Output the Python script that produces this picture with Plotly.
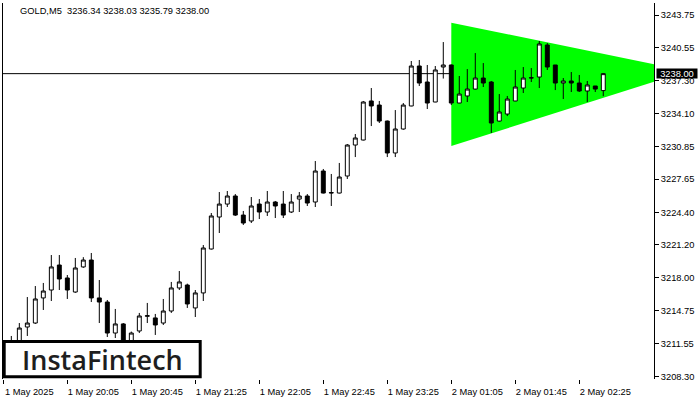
import plotly.graph_objects as go

# ---- data (GOLD, M5) ----
open_ = [3211.20, 3211.30, 3211.60, 3213.15, 3213.54, 3216.00, 3216.78, 3219.23, 3217.96, 3216.58,
         3219.04, 3219.72, 3216.00, 3215.60, 3212.56, 3213.45, 3211.60, 3212.76, 3214.20, 3214.04,
         3213.54, 3214.72, 3216.98, 3217.27, 3215.02, 3216.49, 3220.80, 3223.94, 3225.21, 3226.00,
         3224.13, 3223.55, 3225.21, 3224.43, 3225.41, 3225.21, 3224.43, 3225.70, 3226.00, 3225.41,
         3228.45, 3226.29, 3226.29, 3227.96, 3231.00, 3231.49, 3235.32, 3234.92, 3233.35, 3230.22,
         3232.57, 3234.83, 3238.75, 3237.18, 3235.22, 3238.65, 3238.85, 3235.12, 3235.81, 3236.49,
         3237.57, 3237.18, 3233.35, 3234.04, 3235.32, 3236.59, 3237.57, 3237.67, 3240.81, 3238.85,
         3237.08, 3237.28, 3237.08, 3236.30, 3236.79, 3236.34]
high = [3211.70, 3212.27, 3213.54, 3216.09, 3217.17, 3217.47, 3220.21, 3220.21, 3218.25, 3219.92,
        3220.00, 3220.41, 3217.76, 3215.80, 3214.92, 3213.54, 3212.70, 3214.53, 3215.51, 3214.43,
        3215.90, 3217.57, 3218.64, 3217.40, 3216.78, 3221.19, 3224.33, 3226.39, 3226.49, 3226.19,
        3224.53, 3225.90, 3225.70, 3226.49, 3225.51, 3226.49, 3226.19, 3226.39, 3226.19, 3229.43,
        3228.65, 3228.16, 3229.24, 3231.10, 3232.08, 3235.32, 3236.59, 3235.32, 3233.40, 3234.43,
        3235.12, 3239.24, 3239.34, 3238.85, 3238.75, 3241.10, 3238.90, 3237.77, 3238.45, 3240.02,
        3239.04, 3237.28, 3236.00, 3235.81, 3238.36, 3238.65, 3238.55, 3241.20, 3241.00, 3238.85,
        3237.57, 3238.16, 3237.87, 3237.28, 3236.79, 3238.03]
low = [3210.60, 3210.90, 3211.20, 3212.27, 3213.45, 3214.82, 3215.70, 3216.78, 3215.90, 3216.50,
       3218.95, 3215.60, 3213.54, 3212.17, 3212.07, 3211.00, 3211.20, 3212.56, 3213.54, 3212.37,
       3213.35, 3214.53, 3216.78, 3215.02, 3214.13, 3215.70, 3220.75, 3222.37, 3224.92, 3224.04,
       3223.16, 3223.35, 3223.74, 3224.04, 3223.84, 3223.84, 3224.33, 3224.43, 3225.02, 3224.92,
       3226.25, 3225.02, 3226.25, 3227.67, 3229.82, 3231.45, 3232.86, 3233.16, 3229.82, 3229.82,
       3232.50, 3234.80, 3236.79, 3234.53, 3235.20, 3237.52, 3234.92, 3235.10, 3235.22, 3236.45,
       3236.69, 3232.18, 3233.30, 3233.84, 3235.30, 3236.10, 3237.18, 3236.59, 3238.36, 3236.39,
       3235.51, 3236.20, 3236.20, 3235.22, 3236.20, 3235.79]
close = [3211.50, 3211.80, 3213.05, 3213.54, 3215.90, 3216.68, 3219.04, 3217.86, 3216.78, 3218.94,
         3219.72, 3216.00, 3215.60, 3212.56, 3213.45, 3211.50, 3212.56, 3214.23, 3214.26, 3213.35,
         3214.72, 3216.98, 3217.57, 3215.41, 3216.49, 3220.90, 3224.04, 3225.21, 3226.00, 3224.13,
         3223.35, 3225.02, 3224.43, 3225.41, 3225.02, 3224.13, 3225.41, 3226.00, 3225.31, 3228.45,
         3226.29, 3226.33, 3227.86, 3231.00, 3231.69, 3235.22, 3234.83, 3233.35, 3230.22, 3232.57,
         3234.92, 3238.75, 3237.08, 3235.12, 3238.36, 3238.85, 3235.12, 3236.00, 3236.49, 3237.57,
         3237.08, 3233.16, 3234.24, 3235.51, 3236.69, 3237.57, 3237.60, 3240.91, 3238.65, 3237.08,
         3237.28, 3237.08, 3236.30, 3236.89, 3236.49, 3238.00]

x_tick_pos = [0, 8, 16, 24, 32, 40, 48, 56, 64, 72]
x_tick_text = ["1 May 2025", "1 May 20:05", "1 May 20:45", "1 May 21:25", "1 May 22:05",
               "1 May 22:45", "1 May 23:25", "2 May 01:05", "2 May 01:45", "2 May 02:25"]
y_tick_vals = [3243.75, 3240.55, 3237.30, 3234.10, 3230.85, 3227.65, 3224.40,
               3221.20, 3218.00, 3214.75, 3211.55, 3208.30]
y_tick_text = ["%.2f" % v for v in y_tick_vals]

# bullish symmetrical triangle pattern
pattern_x = [56, 56, 85.5]
pattern_y = [3243.00, 3230.90, 3238.25]

symbol = "GOLD,M5"
header_vals = [3236.34, 3238.03, 3235.79, 3238.00]
current_price = close[-1]

x_range = [-0.04, 81.34]
y_range = [3208.05, 3244.93]

FONT = "Liberation Sans"
FS = 9.3

n = len(close)
xs = list(range(n))

fig = go.Figure()

fig.add_trace(go.Candlestick(
    x=xs, open=open_, high=high, low=low, close=close,
    increasing=dict(line=dict(color="black", width=1), fillcolor="white"),
    decreasing=dict(line=dict(color="black", width=1), fillcolor="black"),
    whiskerwidth=0, showlegend=False, hoverinfo="skip"))

# triangle (below the candles)
tri_path = "M " + " L ".join("%s,%s" % (a, b) for a, b in zip(pattern_x, pattern_y)) + " Z"
fig.add_shape(type="path", xref="x", yref="y", path=tri_path,
              fillcolor="#00FF00", line=dict(width=0), layer="below")
# current price line
fig.add_shape(type="line", xref="paper", yref="y", x0=0, x1=1,
              y0=current_price, y1=current_price,
              line=dict(color="black", width=1), layer="below")

L, R, T, B = 3, 46, 3, 21
W, H = 700, 400
pw, ph = W - L - R, H - T - B

def px_x(p):
    return (p - L) / pw

def px_y(p):
    return (H - B - p) / ph

fig.update_layout(
    template="none",
    width=W, height=H,
    margin=dict(l=L, r=R, t=T, b=B, autoexpand=False),
    paper_bgcolor="white", plot_bgcolor="white",
    font=dict(family=FONT, size=FS, color="black"),
    showlegend=False,
    xaxis=dict(
        range=x_range, rangeslider=dict(visible=False), automargin=False,
        showgrid=False, zeroline=False, showline=False,
        tickmode="array", tickvals=x_tick_pos, ticktext=x_tick_text,
        ticks="outside", ticklen=4, tickcolor="black", tickwidth=1,
        ticklabelshift=26, ticklabelstandoff=0,
        tickfont=dict(family=FONT, size=FS, color="black"),
        fixedrange=True),
    yaxis=dict(
        range=y_range, side="right", automargin=False,
        showgrid=False, zeroline=False,
        showline=True, linecolor="black", linewidth=1, mirror=True,
        tickmode="array", tickvals=y_tick_vals, ticktext=y_tick_text,
        ticks="outside", ticklen=4, tickcolor="black", tickwidth=1,
        tickfont=dict(family=FONT, size=FS, color="black"),
        fixedrange=True),
)

# header
fig.add_annotation(
    xref="paper", yref="paper", x=px_x(18), y=px_y(11),
    xanchor="left", yanchor="middle", showarrow=False,
    text=symbol + "\u00a0\u00a0" + " ".join("%.2f" % v for v in header_vals),
    font=dict(family=FONT, size=FS, color="black"))

# current price label
fig.add_annotation(
    xref="paper", yref="y", x=1, y=current_price, xshift=2,
    xanchor="left", yanchor="middle", showarrow=False,
    text="%.2f" % current_price, bgcolor="black", borderpad=0,
    width=40, height=9,
    font=dict(family=FONT, size=FS, color="white"))

# logo box
fig.add_shape(
    type="rect", xref="paper", yref="paper",
    x0=px_x(4.2), x1=px_x(200.2), y0=px_y(376.8), y1=px_y(341.5),
    line=dict(color="black", width=3), fillcolor="white", layer="above")
fig.add_annotation(
    xref="paper", yref="paper", x=px_x(102), y=px_y(359),
    xanchor="center", yanchor="middle", showarrow=False,
    text="InstaFintech",
    font=dict(family="Open Sans", size=27, color="#1e1e1e", weight=600))

fig.write_html("out.html", config={"displayModeBar": False},
               post_script="document.body.style.margin='0';document.body.style.overflow='hidden';")
